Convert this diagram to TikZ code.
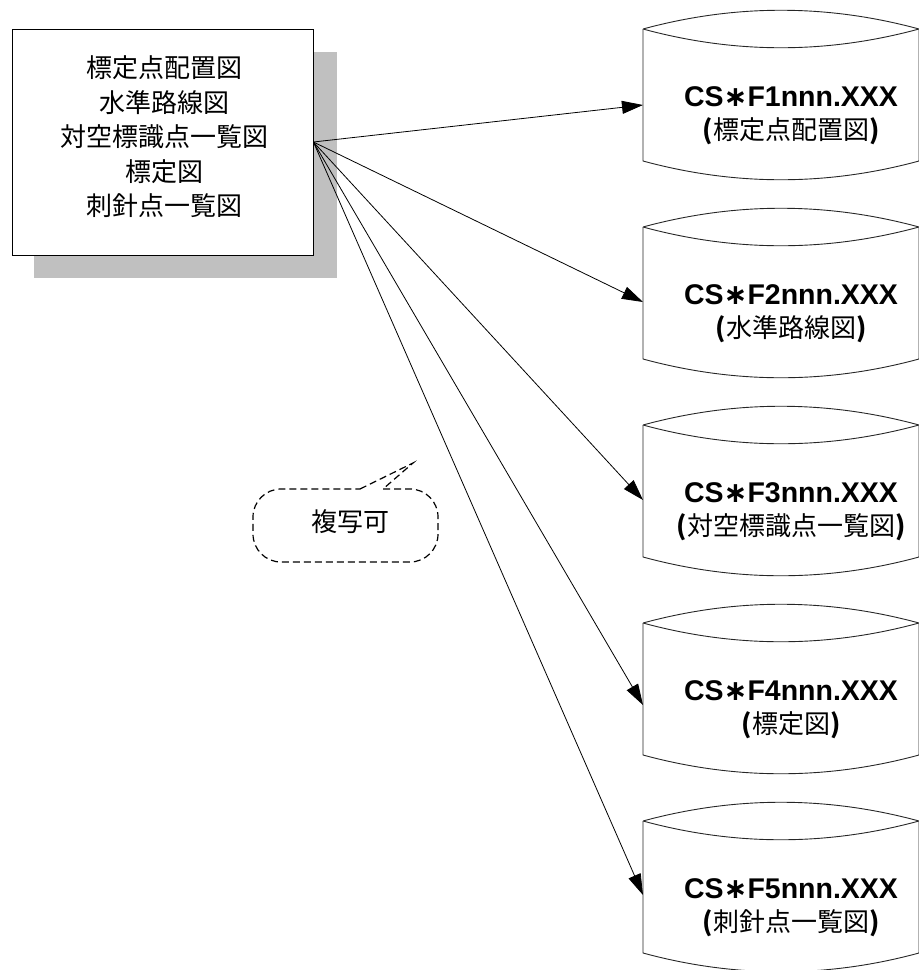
\documentclass[tikz,border=0pt]{standalone}
\usepackage{fontspec}
\setmainfont{Liberation Sans}
\newfontfamily\jp{Noto Sans CJK JP}
\newfontfamily\astfont{DejaVu Sans}
\usetikzlibrary{arrows.meta}
\definecolor{shadowgray}{HTML}{C0C0C0}
\newcommand{\bparen}[1]{{\bfseries #1}}
\newcommand{\midast}{{\astfont\bfseries ∗}}
\begin{document}
\begin{tikzpicture}[x=1pt,y=-1pt,
  arr/.style={-{Triangle[length=21pt,width=13pt]}, line width=0.8pt},
  docline/.style={line width=0.9pt, draw=black!85},
  flabel/.style={font=\fontsize{28.5}{33}\selectfont, align=center, inner sep=0pt},
  fdesc/.style={font=\jp\fontsize{26}{28}\selectfont, inner sep=0pt},
  boxtext/.style={font=\jp\fontsize{26}{34.5}\selectfont, align=center, inner sep=0pt},
  callout/.style={line width=1.2pt, dash pattern=on 7pt off 4pt}
]
\useasboundingbox (0,0) rectangle (919,970);

% source box with shadow
\fill[shadowgray] (34,52) rectangle (337,278);
\node[draw, fill=white, line width=0.8pt, minimum width=301pt, minimum height=226pt, inner sep=0pt] (box) at (162.5,142) {};
\node[boxtext] (boxlbl) at (164,137) {標定点配置図\\水準路線図\\対空標識点一覧図\\標定図\\刺針点一覧図};

% document shapes
\foreach \i/\T/\tip/\lbl in {1/29/105/標定点配置図, 2/227/302/水準路線図, 3/425/500/対空標識点一覧図, 4/623/705/標定図, 5/821/895/刺針点一覧図}{
  \draw[docline] (643,\T) .. controls (735,\T-25) and (827,\T-25) .. (919,\T)
                 .. controls (827,\T+25) and (735,\T+25) .. (643,\T);
  \draw[docline] (643,\T) -- (643,\T+132) .. controls (735,\T+157) and (827,\T+157) .. (919,\T+132) -- (919,\T);
  \node[flabel] (n\i) at (791,\T+87) {\textbf{CS\midast F\i nnn.XXX}\\{\jp\fontsize{26}{33}\selectfont\bparen{(}\lbl\bparen{)}}};
  \coordinate (in\i) at (643,\tip);
  \draw[arr] (box.east) -- (in\i);
}

% callout
\draw[callout] (360,489) -- (413,463) -- (383,489);
\draw[callout, rounded corners=28pt] (383,489) -- (438,489) -- (438,562) -- (253,562) -- (253,489) -- (360,489);
\node[fdesc] (cp) at (350,522) {複写可};
\end{tikzpicture}
\end{document}
